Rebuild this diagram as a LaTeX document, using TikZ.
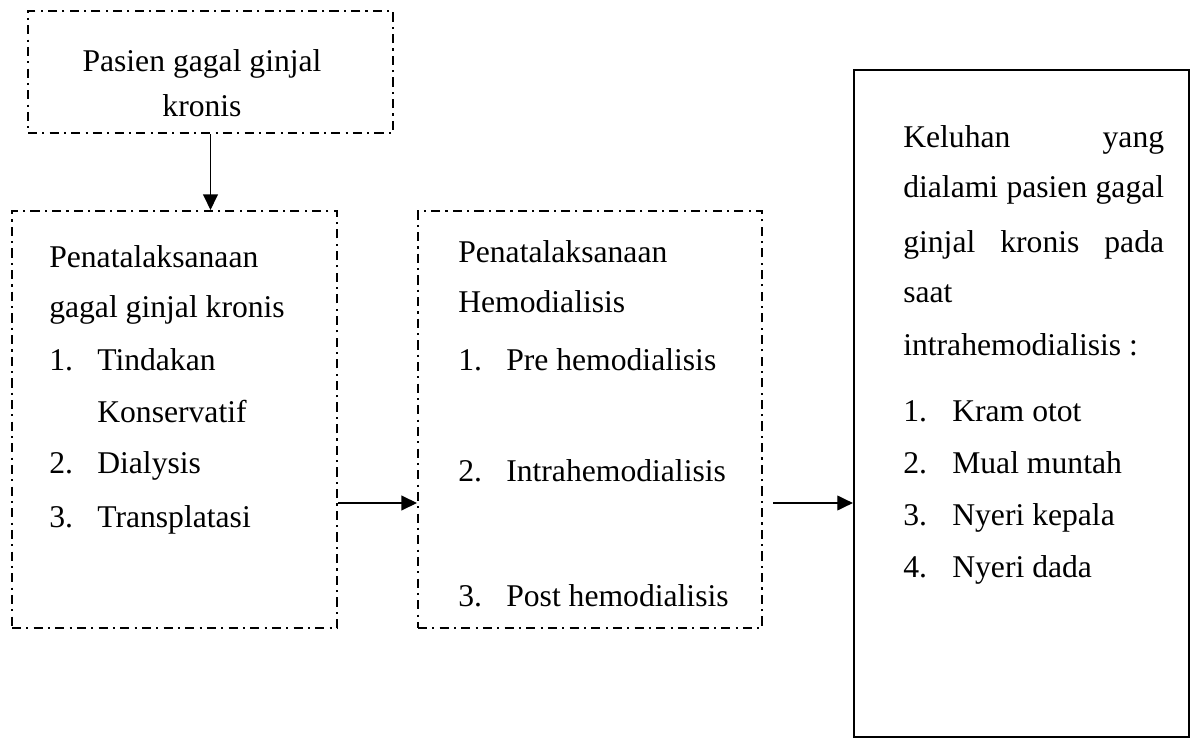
\documentclass[tikz,border=0pt]{standalone}
\usepackage{fontspec}
\setmainfont{Liberation Serif}
\usetikzlibrary{arrows.meta,fit}
\begin{document}
\begin{tikzpicture}[x=0.025cm,y=-0.025cm,>={Triangle[length=11pt,width=10.5pt]},
    font=\fontsize{22.5}{27}\selectfont,
    dashbox/.style={draw,line width=1.5pt,dash pattern=on 6.5pt off 3.7pt on 1.5pt off 3.7pt,inner sep=0pt},
    txt/.style={anchor=base west,inner sep=0pt}]
    \useasboundingbox (0,0) rectangle (1194,740);
    \node[dashbox,fit={(28,11)(393,133)}] (pasien) {};
    \node[dashbox,fit={(12,211)(337,628)}] (tatalaksana) {};
    \node[dashbox,fit={(418,211)(762,628)}] (hemodialisis) {};
    \node[draw,line width=1.6pt,inner sep=0pt,fit={(854,70)(1189,737)}] (keluhan) {};
    \node[anchor=base,inner sep=0pt] (p1) at (202,72) {Pasien gagal ginjal};
    \node[anchor=base,inner sep=0pt] (p2) at (202,117) {kronis};
    \node[txt] (t1) at (49,268) {Penatalaksanaan};
    \node[txt] (t2) at (49,318) {gagal ginjal kronis};
    \foreach \n/\y/\t in {1/371/Tindakan,2/473/Dialysis,3/527/Transplatasi}
        \node[txt] (na\n) at (49,\y) {\n.} node[txt] (ta\n) at (97,\y) {\t};
    \node[txt] (ta4) at (97,422) {Konservatif};
    \node[txt] (h1) at (458,263) {Penatalaksanaan};
    \node[txt] (h2) at (458,313) {Hemodialisis};
    \foreach \n/\y/\t in {1/371/Pre hemodialisis,2/481/Intrahemodialisis,3/606/Post hemodialisis}
        \node[txt] (nb\n) at (458,\y) {\n.} node[txt] (tb\n) at (506,\y) {\t};
    \node[txt] (k1) at (903,148) {\makebox[6.52cm][s]{Keluhan yang}};
    \node[txt] (k2) at (903,198) {\makebox[6.52cm][s]{dialami pasien gagal}};
    \node[txt] (k3) at (903,253) {\makebox[6.52cm][s]{ginjal kronis pada}};
    \node[txt] (k4) at (903,303) {saat};
    \node[txt] (k5) at (903,356) {intrahemodialisis :};
    \foreach \n/\y/\t in {1/421/Kram otot,2/473/Mual muntah,3/525/Nyeri kepala,4/577/Nyeri dada}
        \node[txt] (nc\n) at (903,\y) {\n.} node[txt] (tc\n) at (952,\y) {\t};
    \coordinate (lvl) at (0,503);
    \coordinate (mulai) at (773,503);
    \draw[->,line width=0.8pt] (pasien.south) -- (pasien.south |- tatalaksana.north);
    \draw[->,line width=0.8pt] (tatalaksana.east |- lvl) -- (hemodialisis.west |- lvl);
    \draw[->,line width=0.8pt] (mulai) -- (keluhan.west |- mulai);
\end{tikzpicture}
\end{document}
